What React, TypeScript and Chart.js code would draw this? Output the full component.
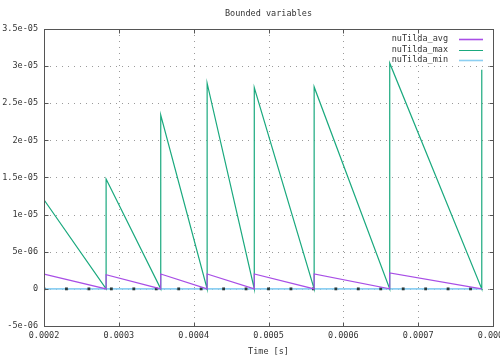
import React, { useEffect, useRef } from "react";
import { Chart, registerables } from "chart.js";

Chart.register(...registerables);

const chartTitle = "Bounded variables";
const xAxisTitle = "Time [s]";

const xTickValues = [0.0002, 0.0003, 0.0004, 0.0005, 0.0006, 0.0007, 0.0008];
const xTickLabels = ["0.0002", "0.0003", "0.0004", "0.0005", "0.0006", "0.0007", "0.0008"];
const yTickValues = [-5e-6, 0, 5e-6, 1e-5, 1.5e-5, 2e-5, 2.5e-5, 3e-5, 3.5e-5];
const yTickLabels = ["-5e-06", "0", "5e-06", "1e-05", "1.5e-05", "2e-05", "2.5e-05", "3e-05", "3.5e-05"];

const seriesNames = ["nuTilda_avg", "nuTilda_max", "nuTilda_min"];
const seriesColors = ["#a84ee6", "#1aa97e", "#8ccff2"];

const avgTimes = [0.0002, 0.000283, 0.000283, 0.000356, 0.000356, 0.000418, 0.000418, 0.000481, 0.000481, 0.000561, 0.000561, 0.000662, 0.000662, 0.000785];
const avgValues = [2.0e-6, 0, 1.9e-6, 0, 2.0e-6, 0, 2.0e-6, 0, 2.0e-6, 0, 2.0e-6, 0, 2.15e-6, 0];

const maxTimes = [0.0002, 0.000283, 0.000283, 0.000356, 0.000356, 0.000418, 0.000418, 0.000481, 0.000481, 0.000561, 0.000561, 0.000662, 0.000662, 0.000785, 0.000785];
const maxValues = [1.2e-5, 0, 1.48e-5, 0, 2.34e-5, 0, 2.77e-5, 0, 2.71e-5, 0, 2.72e-5, 0, 3.04e-5, 0, 2.95e-5];

const minTimes = [0.0002, 0.00023, 0.00026, 0.00029, 0.00032, 0.00035, 0.00038, 0.00041, 0.00044, 0.00047, 0.0005, 0.00053, 0.00056, 0.00059, 0.00062, 0.00065, 0.00068, 0.00071, 0.00074, 0.00077, 0.000785];
const minValues = [0, 0, 0, 0, 0, 0, 0, 0, 0, 0, 0, 0, 0, 0, 0, 0, 0, 0, 0, 0, 0];

const FONT_FAMILY = '"DejaVu Sans Mono", monospace';
const FONT_SIZE = 8.5;
const TEXT_COLOR = "#333333";

const toPoints = (xs: number[], ys: number[]) => xs.map((x, i) => ({ x, y: ys[i] }));

const gnuplotPlugin = {
  id: "gnuplotFrame",
  beforeDatasetsDraw(chart: any) {
    const { ctx, chartArea: a, scales } = chart;
    ctx.save();
    ctx.strokeStyle = "#9a9a9a";
    ctx.lineWidth = 1;
    ctx.setLineDash([1, 5]);
    xTickValues.forEach((v) => {
      const px = Math.round(scales.x.getPixelForValue(v)) + 0.5;
      if (px <= a.left + 1 || px >= a.right - 1) return;
      ctx.beginPath();
      ctx.moveTo(px, a.top);
      ctx.lineTo(px, a.bottom);
      ctx.stroke();
    });
    yTickValues.forEach((v) => {
      const py = Math.round(scales.y.getPixelForValue(v)) + 0.5;
      if (py <= a.top + 1 || py >= a.bottom - 1) return;
      ctx.beginPath();
      ctx.moveTo(a.left, py);
      ctx.lineTo(a.right, py);
      ctx.stroke();
    });
    ctx.restore();
  },
  afterDraw(chart: any) {
    const { ctx, chartArea: a, scales } = chart;
    ctx.save();
    ctx.strokeStyle = "#555555";
    ctx.lineWidth = 1;
    ctx.setLineDash([]);
    const l = Math.round(a.left) + 0.5;
    const r = Math.round(a.right) + 0.5;
    const t = Math.round(a.top) + 0.5;
    const b = Math.round(a.bottom) + 0.5;
    ctx.strokeRect(l, t, r - l, b - t);
    const tl = 4;
    ctx.beginPath();
    xTickValues.forEach((v) => {
      const px = Math.round(scales.x.getPixelForValue(v)) + 0.5;
      ctx.moveTo(px, b);
      ctx.lineTo(px, b - tl);
      ctx.moveTo(px, t);
      ctx.lineTo(px, t + tl);
    });
    yTickValues.forEach((v) => {
      const py = Math.round(scales.y.getPixelForValue(v)) + 0.5;
      ctx.moveTo(l, py);
      ctx.lineTo(l + tl, py);
      ctx.moveTo(r, py);
      ctx.lineTo(r - tl, py);
    });
    ctx.stroke();

    ctx.font = `${FONT_SIZE}px ${FONT_FAMILY}`;
    ctx.fillStyle = TEXT_COLOR;
    ctx.textAlign = "center";
    ctx.textBaseline = "middle";
    ctx.fillText(chartTitle, (a.left + a.right) / 2, 14);

    const textRight = 448;
    const sampleL = 459;
    const sampleR = 483;
    const rows = [39, 49.5, 60];
    chart.data.datasets.slice(0, 3).forEach((ds: any, i: number) => {
      ctx.textAlign = "right";
      ctx.fillStyle = TEXT_COLOR;
      ctx.fillText(ds.label, textRight, rows[i]);
      ctx.strokeStyle = ds.borderColor;
      ctx.lineWidth = i === 1 ? 1 : 1.6;
      ctx.beginPath();
      ctx.moveTo(sampleL, Math.round(rows[i]) + 0.5);
      ctx.lineTo(sampleR, Math.round(rows[i]) + 0.5);
      ctx.stroke();
    });
    ctx.restore();
  },
};

export default function App() {
  const canvasRef = useRef<HTMLCanvasElement | null>(null);

  useEffect(() => {
    if (!canvasRef.current) return;
    const font = { family: FONT_FAMILY, size: FONT_SIZE };
    const chart = new Chart(canvasRef.current, {
      type: "line",
      data: {
        datasets: [
          {
            label: seriesNames[0],
            data: toPoints(avgTimes, avgValues),
            borderColor: seriesColors[0],
            borderWidth: 1.2,
            pointRadius: 0,
            tension: 0,
          },
          {
            label: seriesNames[1],
            data: toPoints(maxTimes, maxValues),
            borderColor: seriesColors[1],
            borderWidth: 1.2,
            pointRadius: 0,
            tension: 0,
          },
          {
            label: seriesNames[2],
            data: toPoints(minTimes, minValues),
            borderColor: seriesColors[2],
            borderWidth: 1.6,
            pointRadius: minTimes.map((_, i) => (i === minTimes.length - 1 ? 0 : 2)),
            pointStyle: "rect",
            pointBackgroundColor: "#2a3a3a",
            pointBorderColor: "#2a3a3a",
            pointBorderWidth: 0,
            tension: 0,
          },
        ],
      },
      options: {
        animation: false,
        responsive: false,
        maintainAspectRatio: false,
        layout: { padding: { top: 29, right: 7, left: 0, bottom: 0 } },
        plugins: {
          legend: { display: false },
          title: { display: false },
          tooltip: { enabled: false },
        },
        scales: {
          x: {
            type: "linear",
            min: 0.0002,
            max: 0.0008,
            grid: { display: false, drawTicks: false },
            border: { display: false },
            afterBuildTicks: (s: any) => {
              s.ticks = xTickValues.map((v) => ({ value: v }));
            },
            afterFit: (s: any) => {
              s.height = 32;
              s.paddingLeft = 0;
              s.paddingRight = 0;
            },
            ticks: {
              font,
              color: TEXT_COLOR,
              padding: 5,
              maxRotation: 0,
              autoSkip: false,
              callback: (_v: any, i: number) => xTickLabels[i],
            },
            title: {
              display: true,
              text: xAxisTitle,
              font,
              color: TEXT_COLOR,
              padding: { top: 2, bottom: 1 },
            },
          },
          y: {
            type: "linear",
            min: -5e-6,
            max: 3.5e-5,
            grid: { display: false, drawTicks: false },
            border: { display: false },
            afterBuildTicks: (s: any) => {
              s.ticks = yTickValues.map((v) => ({ value: v }));
            },
            afterFit: (s: any) => {
              s.width = 44;
              s.paddingTop = 0;
              s.paddingBottom = 0;
            },
            ticks: {
              font,
              color: TEXT_COLOR,
              padding: 6,
              autoSkip: false,
              callback: (_v: any, i: number) => yTickLabels[i],
            },
          },
        },
      },
      plugins: [gnuplotPlugin],
    });
    return () => chart.destroy();
  }, []);

  return (
    <div style={{ position: "absolute", left: 0, top: 0, width: 500, height: 358, background: "#ffffff" }}>
      <canvas ref={canvasRef} width={500} height={358} style={{ display: "block" }} />
    </div>
  );
}
